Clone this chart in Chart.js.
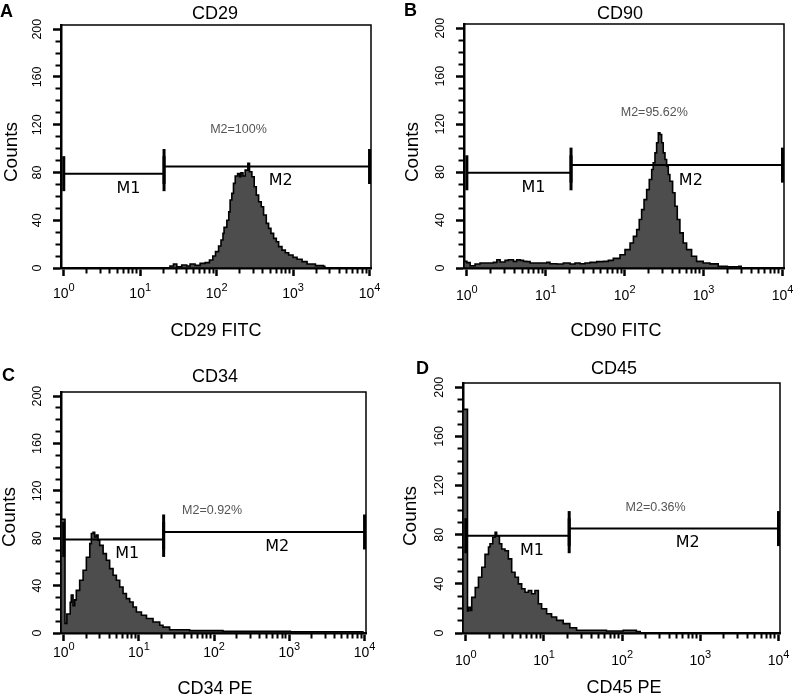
<!DOCTYPE html>
<html>
<head>
<meta charset="utf-8">
<script src="https://cdn.jsdelivr.net/npm/chart.js@4.4.1/dist/chart.umd.min.js"></script>
<style>
  html, body { margin: 0; padding: 0; background: #fff; }
  #wrap { position: relative; width: 796px; height: 698px; overflow: hidden; }
  #wrap canvas { position: absolute; left: 0; top: 0; }
</style>
</head>
<body>
<div id="wrap">
  <canvas id="c0" width="796" height="698"></canvas>
  <canvas id="c1" width="796" height="698"></canvas>
  <canvas id="c2" width="796" height="698"></canvas>
  <canvas id="c3" width="796" height="698"></canvas>
</div>
<script>
// panel texts
const panelLetters = ["A", "B", "C", "D"];
const panelTitles = ["CD29", "CD90", "CD34", "CD45"];
const axisTitles = ["CD29 FITC", "CD90 FITC", "CD34 PE", "CD45 PE"];
const m2Labels = ["M2=100%", "M2=95.62%", "M2=0.92%", "M2=0.36%"];
const markerNames = ["M1", "M2"];

// axes
const yTicks = [0, 40, 80, 120, 160, 200];
const yMinorTicks = [10, 20, 30, 50, 60, 70, 90, 100, 110, 130, 140, 150, 170, 180, 190];
const xTicks = [1, 10, 100, 1000, 10000];
const xExponents = ["0", "1", "2", "3", "4"];
const xMinorTicks = [2, 3, 4, 5, 6, 7, 8, 9, 20, 30, 40, 50, 60, 70, 80, 90,
  200, 300, 400, 500, 600, 700, 800, 900, 2000, 3000, 4000, 5000, 6000, 7000, 8000, 9000];

// gates M1 / M2 (M1 runs from 1 to the split, M2 from the split to 10^4)
const gateStart = [1, 1, 1, 1];
const gateSplit = [20.5, 20.9, 21.3, 21];
const gateEnd = [10000, 10000, 10000, 10000];
const m1Level = [79, 79.4, 79, 79.2];
const m2Level = [85, 85.8, 85.3, 85];

// histograms (fluorescence, counts)
const cd29X = [22, 24.5, 27.2, 30.1, 34.9, 40.6, 44.9, 52.2, 60.8, 70.7, 80.5, 89.1, 96.6, 106, 114, 121, 125, 136, 144, 150,
  158, 166, 175, 188, 199, 208, 221, 236, 256, 269, 289, 310, 330, 354, 383, 411, 446, 478, 513, 556,
  603, 647, 715, 791, 875, 998, 1127, 1310, 1524, 1960, 2494, 2600];
const cd29Counts = [0, 1.7, 3.3, 1.1, 2.5, 1.7, 3.3, 2.2, 3.9, 4.5, 6.7, 10, 13.7, 18.4, 23.4, 29, 34, 40, 47, 57,
  62.5, 70.9, 77, 79, 76.4, 79.8, 77, 82, 87.6, 80.6, 76.4, 68, 61, 55.5, 51.3, 44.4, 37.4, 33.2, 29, 24.8,
  22, 17.9, 15, 12.8, 10.9, 8.9, 7.3, 5.3, 3.3, 2, 1.5, 0];

const cd90X = [0.92, 1.0, 1.1, 1.27, 1.47, 1.79, 2.17, 2.4, 2.64, 3.05, 3.36, 3.89, 4.29, 4.73, 5.21, 5.75, 6.33, 7.69, 9.33, 10.3,
  11.3, 13.8, 16.7, 20.3, 23.5, 27.2, 31.4, 36.4, 44.2, 53.7, 62.1, 71.8, 87.2, 101, 117, 129, 142, 153, 164, 176,
  190, 205, 220, 230, 242, 254, 267, 280, 294, 308, 324, 340, 357, 374, 405, 434, 464, 501, 552, 609,
  705, 815, 989, 1202, 1531, 2000, 2800, 3000];
const cd90Counts = [5.5, 4.5, 1.9, 3.3, 4.2, 4.2, 4.7, 6.9, 5, 6.4, 6.9, 5.5, 6.9, 6.4, 5.5, 5.3, 4.2, 4.2, 4.2, 4.7,
  3.6, 3.3, 4.2, 3.3, 4.2, 3.6, 4.2, 4.7, 5.3, 5.5, 6.4, 8, 11, 15.3, 20.9, 26.4, 32, 40.4, 48.7, 57,
  65.4, 73.8, 82.2, 87.8, 96, 104.5, 112.8, 111.4, 104.5, 96, 90.5, 85, 78, 72.4, 62.7, 51.5, 40.4, 29.3, 20.9, 15.3,
  9.8, 5.5, 4.2, 3.4, 1.4, 1, 1.5, 0];

const cd34X = [0.92, 1.03, 1.04, 1.1, 1.22, 1.26, 1.33, 1.4, 1.47, 1.63, 1.81, 2.0, 2.22, 2.33, 2.46, 2.58, 2.72, 2.86, 3.01, 3.34,
  3.69, 4.08, 4.53, 5.01, 5.55, 6.15, 6.81, 7.54, 8.36, 9.25, 10.8, 12.6, 15.4, 18.9, 20.9, 25.6, 47.2, 78.7, 131, 296,
  1030, 4800, 9500];
const cd34Counts = [96, 96, 8, 16, 26, 32, 23, 28, 36, 44.5, 53, 64, 75.5, 84, 85, 81, 82.8, 78.3, 74, 67,
  61.4, 54.4, 48.8, 44.5, 38.9, 33.3, 29, 26.2, 22, 17.7, 15, 12.2, 9.3, 6.5, 5, 2.8, 2, 2, 1.4, 1.4,
  1, 1, 0.5];

const cd45X = [0.92, 1.04, 1.05, 1.08, 1.14, 1.19, 1.32, 1.45, 1.6, 1.76, 1.95, 2.04, 2.21, 2.37, 2.48, 2.69, 2.88, 3.17, 3.5, 3.86,
  4.26, 4.7, 5.18, 5.71, 6.31, 6.95, 7.66, 8.46, 9.32, 10.8, 12.5, 14.5, 17.6, 21.4, 26.1, 38.5, 62.9, 103, 152, 170];
const cd45Counts = [182, 182, 18, 21, 18.4, 29, 37, 45.4, 53.5, 64, 70, 72.6, 78, 82, 79, 72.6, 68.4, 67, 60.3, 49.5,
  45.4, 40, 36, 33.2, 34.6, 31.9, 34.6, 23.8, 19.7, 15.7, 13, 10.3, 7.6, 4.3, 2.2, 2.2, 1.6, 2.2, 1.2, 0];

const histX = [cd29X, cd90X, cd34X, cd45X];
const histCounts = [cd29Counts, cd90Counts, cd34Counts, cd45Counts];

// layout of each panel in page pixels
const layouts = [
  { area: [61, 371, 25, 268], title: [215, 14], letter: [0, 12], xlab: [216, 331], ylab: [12, 152], tickDy: 30, pct: [193, 116] },
  { area: [464, 784, 24, 268], title: [620, 14], letter: [404, 11], xlab: [616, 331], ylab: [413, 152], tickDy: 32, pct: [237, 130] },
  { area: [61, 366, 392, 633], title: [215, 377], letter: [2, 376], xlab: [215, 689], ylab: [10, 517], tickDy: 24, pct: [94, 103] },
  { area: [463, 780, 383, 633], title: [614, 369], letter: [416, 369], xlab: [624, 688], ylab: [411, 516], tickDy: 32, pct: [268, 102] }
];
const markerLabelPos = [[7, 66.5], [690, 73]];

const SANS = "'Liberation Sans', Arial, sans-serif";
const Y_W = 61, X_H = 40;

const decor = {
  id: "decor",
  afterDraw(chart) {
    const i = chart.options.plugins.decor.panel;
    const L = layouts[i];
    const ctx = chart.ctx;
    const ca = chart.chartArea;
    const xs = chart.scales.x, ys = chart.scales.y;
    ctx.save();
    // frame
    ctx.strokeStyle = "#000";
    ctx.lineWidth = 1.5;
    ctx.strokeRect(ca.left, ca.top, ca.right - ca.left, ca.bottom - ca.top);

    ctx.fillStyle = "#000";
    // y tick labels, rotated
    ctx.font = "12.5px " + SANS;
    ctx.textAlign = "center";
    ctx.textBaseline = "middle";
    yTicks.forEach(v => {
      ctx.save();
      ctx.translate(ca.left - 23, ys.getPixelForValue(v));
      ctx.rotate(-Math.PI / 2);
      ctx.fillText(String(v), 0, 0);
      ctx.restore();
    });
    // x tick labels 10^n
    ctx.textAlign = "left";
    ctx.textBaseline = "alphabetic";
    xTicks.forEach((v, k) => {
      const px = xs.getPixelForValue(v);
      ctx.font = "14px " + SANS;
      const w1 = ctx.measureText("10").width;
      ctx.font = "11px " + SANS;
      const w2 = ctx.measureText(xExponents[k]).width;
      const x0 = px - (w1 + w2) / 2;
      const base = ca.bottom + L.tickDy;
      ctx.font = "14px " + SANS;
      ctx.fillText("10", x0, base);
      ctx.font = "11px " + SANS;
      ctx.fillText(xExponents[k], x0 + w1, base - 7);
    });
    // Counts
    ctx.textAlign = "center";
    ctx.textBaseline = "middle";
    ctx.font = "19px " + SANS;
    ctx.save();
    ctx.translate(L.ylab[0], L.ylab[1]);
    ctx.rotate(-Math.PI / 2);
    ctx.fillText("Counts", 0, 0);
    ctx.restore();
    // titles
    ctx.font = "18px " + SANS;
    ctx.fillText(panelTitles[i], L.title[0], L.title[1]);
    ctx.fillText(axisTitles[i], L.xlab[0], L.xlab[1]);
    ctx.textAlign = "left";
    ctx.font = "bold 18px " + SANS;
    ctx.fillText(panelLetters[i], L.letter[0], L.letter[1]);
    // gate names
    ctx.textAlign = "center";
    ctx.font = "16px 'DejaVu Sans', Verdana, sans-serif";
    markerNames.forEach((name, k) => {
      const p = markerLabelPos[k];
      ctx.fillText(name, xs.getPixelForValue(p[0]), ys.getPixelForValue(p[1]));
    });
    ctx.fillStyle = "#555";
    ctx.font = "12.5px " + SANS;
    ctx.fillText(m2Labels[i], xs.getPixelForValue(L.pct[0]), ys.getPixelForValue(L.pct[1]));
    ctx.restore();
  }
};

function gateDataset(x1, x2, y) {
  return {
    data: [{ x: x1, y: y }, { x: x2, y: y }],
    borderColor: "#000",
    borderWidth: 2,
    fill: false,
    pointStyle: "line",
    pointRotation: 90,
    pointRadius: 17.5,
    pointHoverRadius: 17.5,
    pointBorderWidth: 3,
    pointBorderColor: "#000",
    order: 0
  };
}

function makeChart(i) {
  const L = layouts[i];
  const [left, right, top, bottom] = L.area;
  const points = histX[i].map((x, k) => ({ x: x, y: histCounts[i][k] }));
  const tickGrid = (len, w) => ({ display: true, drawOnChartArea: false, drawTicks: true, tickLength: len, tickWidth: w, tickColor: "#000" });

  new Chart(document.getElementById("c" + i), {
    type: "line",
    data: {
      datasets: [
        gateDataset(gateStart[i], gateSplit[i], m1Level[i]),
        gateDataset(gateSplit[i], gateEnd[i], m2Level[i]),
        {
          data: points,
          stepped: true,
          fill: "origin",
          backgroundColor: "#4d4d4d",
          borderColor: "#000",
          borderWidth: 1.6,
          pointRadius: 0,
          order: 1
        }
      ]
    },
    options: {
      responsive: false,
      animation: false,
      events: [],
      layout: {
        autoPadding: false,
        padding: { left: left - Y_W, right: 796 - right, top: top, bottom: 698 - bottom - X_H }
      },
      scales: {
        x: {
          type: "logarithmic", axis: "x", position: "bottom", weight: 1,
          min: 0.92, max: 10450,
          afterBuildTicks: s => { s.ticks = xTicks.map(v => ({ value: v })); },
          afterFit: s => { s.height = X_H; },
          ticks: { display: false },
          grid: tickGrid(8, 2.5),
          border: { display: true, color: "#000", width: 2.5 }
        },
        xMinor: {
          type: "logarithmic", axis: "x", position: "bottom", weight: 0,
          min: 0.92, max: 10450,
          afterBuildTicks: s => { s.ticks = xMinorTicks.map(v => ({ value: v })); },
          afterFit: s => { s.height = 0; },
          ticks: { display: false },
          grid: tickGrid(5.5, 2),
          border: { display: false }
        },
        y: {
          type: "linear", axis: "y", position: "left", weight: 1,
          min: 0, max: 203.5,
          afterBuildTicks: s => { s.ticks = yTicks.map(v => ({ value: v })); },
          afterFit: s => { s.width = Y_W; },
          ticks: { display: false },
          grid: tickGrid(8, 2.5),
          border: { display: true, color: "#000", width: 2.5 }
        },
        yMinor: {
          type: "linear", axis: "y", position: "left", weight: 0,
          min: 0, max: 203.5,
          afterBuildTicks: s => { s.ticks = yMinorTicks.map(v => ({ value: v })); },
          afterFit: s => { s.width = 0; },
          ticks: { display: false },
          grid: tickGrid(5.5, 2),
          border: { display: false }
        }
      },
      plugins: {
        legend: { display: false },
        tooltip: { enabled: false },
        decor: { panel: i }
      }
    },
    plugins: [decor]
  });
}

[0, 1, 2, 3].forEach(makeChart);
</script>
</body>
</html>
